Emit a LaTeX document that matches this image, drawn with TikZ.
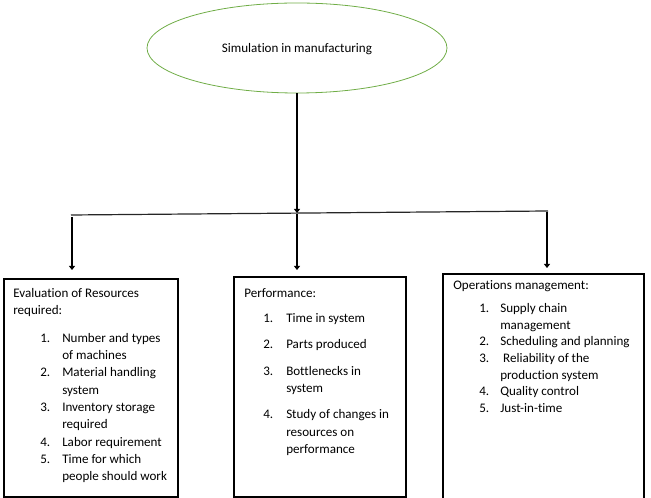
\documentclass[tikz,border=0pt]{standalone}
\usepackage{fontspec}
\setmainfont{Carlito}[Ligatures=NoCommon]
\usepackage{array}
\usetikzlibrary{arrows.meta, positioning, shapes.geometric, fit}
\definecolor{simgreen}{RGB}{112,173,71}
\newcommand{\boxhead}[1]{\multicolumn{2}{@{}l@{}}{#1}}

\begin{document}
\begin{tikzpicture}[
    x=0.75pt, y=-0.75pt,
    every node/.style={font=\fontsize{9.8}{13}\selectfont},
    root/.style={ellipse, draw=simgreen, line width=0.6pt,
      minimum width=225pt, minimum height=67.5pt},
    box/.style={rectangle, draw, line width=1pt, inner sep=0pt},
    txt/.style={anchor=north west, inner sep=0pt, align=left},
    bus/.style={line width=0.9pt, draw=black!85},
    arr/.style={-{Triangle[length=3pt, width=4.5pt]}, line width=2.2pt}
  ]
    \useasboundingbox (0,0) rectangle (651,498);

    \node[root, text depth=-1.5pt] (sim) at (297,48) {Simulation in manufacturing};

    % bus line and branch points
    \coordinate (busL) at (71,215);
    \coordinate (busM) at (297,213);
    \coordinate (busR) at (548,211);
    \coordinate (tapL) at (72,217);
    \coordinate (tapM) at (297,214);
    \coordinate (tapR) at (547,212);
    \coordinate (endL) at (72,270);
    \coordinate (endM) at (297,270);
    \coordinate (endR) at (547,268);

    \node[box, fit={(4,279) (178,497)}] (res) {};
    \node[box, fit={(234,277) (406,497)}] (perf) {};
    \node[box, fit={(443,274) (644,503)}] (ops) {};

    \node[txt] (resTxt) at (13,285) {%
      \begin{tabular}{@{\hspace{20.25pt}}p{16.5pt}@{}l@{}}
        \boxhead{Evaluation of Resources}\\
        \boxhead{required:}\\[7.5pt]
        1. & Number and types\\
           & of machines\\
        2. & Material handling\\
           & system\\
        3. & Inventory storage\\
           & required\\
        4. & Labor requirement\\
        5. & Time for which\\
           & people should work
      \end{tabular}};
    \node[txt] (perfTxt) at (244,285) {%
      \begin{tabular}{@{\hspace{14.25pt}}p{17.25pt}@{}l@{}}
        \boxhead{Performance:}\\[6pt]
        1. & Time in system\\[6.5pt]
        2. & Parts produced\\[7pt]
        3. & Bottlenecks in\\
           & system\\[6.5pt]
        4. & Study of changes in\\
           & resources on\\
           & performance
      \end{tabular}};
    \node[txt, font=\fontsize{9.8}{12.5}\selectfont] (opsTxt) at (453,278) {%
      \begin{tabular}{@{\hspace{19.5pt}}p{15.75pt}@{}l@{}}
        \boxhead{Operations management:}\\[4.5pt]
        1. & Supply chain\\
           & management\\
        2. & Scheduling and planning\\
        3. & \ Reliability of the\\
           & production system\\
        4. & Quality control\\
        5. & Just-in-time
      \end{tabular}};

    \draw[arr] (sim) -- (busM);
    \draw[bus] (busL) -- (busR);
    \draw[arr] (tapL) -- (endL);
    \draw[arr] (tapM) -- (endM);
    \draw[arr] (tapR) -- (endR);
\end{tikzpicture}
\end{document}
